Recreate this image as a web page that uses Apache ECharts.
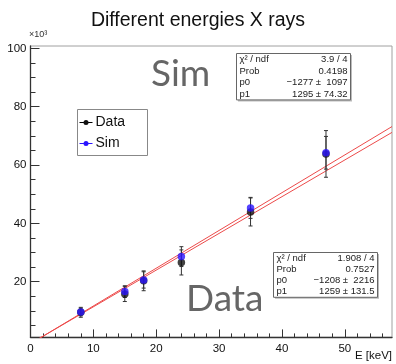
<!DOCTYPE html>
<html>
<head>
<meta charset="utf-8">
<script src="https://cdn.jsdelivr.net/npm/echarts@6/dist/echarts.min.js"></script>
<style>
  html, body { margin: 0; padding: 0; background: #fff; }
  #chart { width: 396px; height: 364px; }
</style>
</head>
<body>
<div id="chart"></div>
<script>
// X-ray line energies (keV)
const energies = [8, 15, 18, 24, 35, 47];
// Measured amplitudes (x10^3) and their errors
const dataValues = [9.5, 15.8, 20.3, 26.6, 43.9, 63.8];
const dataErrors = [1.7, 2.6, 3.4, 4.3, 4.8, 8.0];
// Simulated amplitudes (x10^3) and their errors
const simValues = [9.6, 16.6, 20.6, 28.6, 45.3, 64.2];
const simErrors = [1.3, 2.0, 2.8, 3.4, 3.6, 5.6];

// Linear fit results p0 + p1*E (raw units)
const simFit = { p0: -1277, p1: 1295 };
const dataFit = { p0: -1208, p1: 1259 };
const fitRange = [0, 57.5];

// Fit statistics boxes
const statLabels = ['\u03c7\u00b2 / ndf', 'Prob', 'p0', 'p1'];
const simStats = ['3.9 / 4', '0.4198', '\u22121277 \u00b1  1097', '1295 \u00b1 74.32'];
const dataStats = ['1.908 / 4', '0.7527', '\u22121208 \u00b1  2216', '1259 \u00b1 131.5'];

// Axis ticks
const xMajorTicks = [0, 10, 20, 30, 40, 50];
const xMinorTicks = [2, 4, 6, 8, 12, 14, 16, 18, 22, 24, 26, 28, 32, 34, 36, 38, 42, 44, 46, 48, 52, 54, 56];
const yMajorTicks = [20, 40, 60, 80, 100];
const yMinorTicks = [5, 10, 15, 25, 30, 35, 45, 50, 55, 65, 70, 75, 85, 90, 95];

const FONT = 'Liberation Sans';
const BLUE = '#2a14ff';
const BLACK = '#111111';
const RED = '#ec4a4a';

const chart = echarts.init(document.getElementById('chart'), null, { renderer: 'canvas' });

function points(vals, errs) {
  return energies.map((e, i) => [e, vals[i], errs[i]]);
}
function fitLine(f) {
  return fitRange.map(x => [x, (f.p0 + f.p1 * x) / 1000]);
}

function errorBarSeries(name, vals, errs) {
  return {
    name: name + ' errors',
    type: 'custom',
    xAxisIndex: 0, yAxisIndex: 0,
    z: 3,
    silent: true,
    data: points(vals, errs),
    renderItem: function (params, api) {
      const x = api.value(0), y = api.value(1), err = api.value(2);
      const top = api.coord([x, y + err]);
      const bot = api.coord([x, y - err]);
      const cap = 2;
      const style = { stroke: '#333', lineWidth: 1 };
      return {
        type: 'group',
        children: [
          { type: 'line', shape: { x1: top[0], y1: top[1], x2: bot[0], y2: bot[1] }, style: style },
          { type: 'line', shape: { x1: top[0] - cap, y1: top[1], x2: top[0] + cap, y2: top[1] }, style: style },
          { type: 'line', shape: { x1: bot[0] - cap, y1: bot[1], x2: bot[0] + cap, y2: bot[1] }, style: style }
        ]
      };
    }
  };
}

function statsBox(left, top, width, rowH, values) {
  const children = [
    { type: 'rect', shape: { x: 1.5, y: 1.5, width: width, height: rowH * 4 }, style: { fill: '#bbb' } },
    { type: 'rect', shape: { x: 0, y: 0, width: width, height: rowH * 4 }, style: { fill: '#fff', stroke: '#666', lineWidth: 1 } }
  ];
  statLabels.forEach((lab, i) => {
    children.push({ type: 'text', x: 3, y: rowH * (i + 0.5),
      style: { text: lab, font: '9.5px "' + FONT + '"', fill: '#222', textVerticalAlign: 'middle', textAlign: 'left' } });
    children.push({ type: 'text', x: width - 3, y: rowH * (i + 0.5),
      style: { text: values[i], font: '9.5px "' + FONT + '"', fill: '#222', textVerticalAlign: 'middle', textAlign: 'right' } });
  });
  return { type: 'group', left: left, top: top, z: 10, children: children };
}

const option = {
  animation: false,
  backgroundColor: '#fff',
  title: {
    text: 'Different energies X rays',
    left: 'center',
    top: 6,
    textStyle: { fontFamily: FONT, fontSize: 19.5, fontWeight: 'normal', color: '#111' }
  },
  grid: {
    left: 30.5, right: 4, top: 46, bottom: 26.6,
    show: true, borderColor: '#a0a0a0', borderWidth: 1, backgroundColor: 'transparent'
  },
  xAxis: [
    {
      type: 'value', min: fitRange[0], max: fitRange[1], position: 'bottom',
      axisLine: { lineStyle: { color: '#333', width: 1.3 } },
      axisTick: { inside: true, length: 8, customValues: xMajorTicks, lineStyle: { color: '#333' } },
      axisLabel: { customValues: xMajorTicks, margin: 5, fontFamily: FONT, fontSize: 11.5, color: '#111' },
      splitLine: { show: false }
    },
    {
      type: 'value', min: fitRange[0], max: fitRange[1], position: 'bottom', offset: 0,
      axisLine: { show: false },
      axisTick: { inside: true, length: 4, customValues: xMinorTicks, lineStyle: { color: '#333' } },
      axisLabel: { show: false },
      splitLine: { show: false }
    }
  ],
  yAxis: [
    {
      type: 'value', min: 0.9, max: 100.8, position: 'left',
      axisLine: { show: true, lineStyle: { color: '#333', width: 1.3 } },
      axisTick: { show: true, inside: true, length: 9, customValues: yMajorTicks, lineStyle: { color: '#333' } },
      axisLabel: { customValues: yMajorTicks, margin: 4, fontFamily: FONT, fontSize: 11.5, color: '#111' },
      splitLine: { show: false }
    },
    {
      type: 'value', min: 0.9, max: 100.8, position: 'left', offset: 0,
      axisLine: { show: false },
      axisTick: { show: true, inside: true, length: 5, customValues: yMinorTicks, lineStyle: { color: '#333' } },
      axisLabel: { show: false },
      splitLine: { show: false }
    }
  ],
  series: [
    {
      name: 'Sim fit', type: 'line', data: fitLine(simFit), clip: true,
      symbol: 'none', z: 2, lineStyle: { color: RED, width: 1 }, silent: true
    },
    {
      name: 'Data fit', type: 'line', data: fitLine(dataFit), clip: true,
      symbol: 'none', z: 2, lineStyle: { color: RED, width: 1 }, silent: true
    },
    errorBarSeries('Data', dataValues, dataErrors),
    errorBarSeries('Sim', simValues, simErrors),
    {
      name: 'Data', type: 'scatter', z: 4, symbol: 'circle', symbolSize: 7.5,
      data: points(dataValues, dataErrors).map(p => [p[0], p[1]]),
      itemStyle: { color: BLACK }
    },
    {
      name: 'Sim', type: 'scatter', z: 5, symbol: 'circle', symbolSize: 7.5,
      data: points(simValues, simErrors).map(p => [p[0], p[1]]),
      itemStyle: { color: BLUE }
    }
  ],
  graphic: [
    { type: 'text', left: 29, top: 30, style: { text: '\u00d710\u00b3', font: '9px "' + FONT + '"', fill: '#333' } },
    { type: 'text', right: 4, top: 350, style: { text: 'E [keV]', font: '11.5px "' + FONT + '"', fill: '#111' } },
    { type: 'text', left: 151, top: 56, z: 1, style: { text: 'Sim', font: '37px Lato', fill: '#666' } },
    { type: 'text', left: 186, top: 281, z: 1, style: { text: 'Data', font: '37px Lato', fill: '#666' } },
    // legend
    {
      type: 'group', left: 77, top: 109, z: 10,
      children: [
        { type: 'rect', shape: { x: 0, y: 0, width: 70, height: 46 }, style: { fill: '#fff', stroke: '#888', lineWidth: 1 } },
        { type: 'line', shape: { x1: 2, y1: 13, x2: 15, y2: 13 }, style: { stroke: '#000', lineWidth: 1 } },
        { type: 'circle', shape: { cx: 8.5, cy: 13, r: 2.5 }, style: { fill: BLACK } },
        { type: 'text', x: 18, y: 13, style: { text: 'Data', font: '14px "' + FONT + '"', fill: '#111', textVerticalAlign: 'middle' } },
        { type: 'line', shape: { x1: 2, y1: 34, x2: 15, y2: 34 }, style: { stroke: BLUE, lineWidth: 1 } },
        { type: 'circle', shape: { cx: 8.5, cy: 34, r: 2.5 }, style: { fill: BLUE } },
        { type: 'text', x: 18, y: 34, style: { text: 'Sim', font: '14px "' + FONT + '"', fill: '#111', textVerticalAlign: 'middle' } }
      ]
    },
    statsBox(236, 53, 114, 11.6, simStats),
    statsBox(273, 252, 104, 11.2, dataStats)
  ]
};

chart.setOption(option);
</script>
</body>
</html>
